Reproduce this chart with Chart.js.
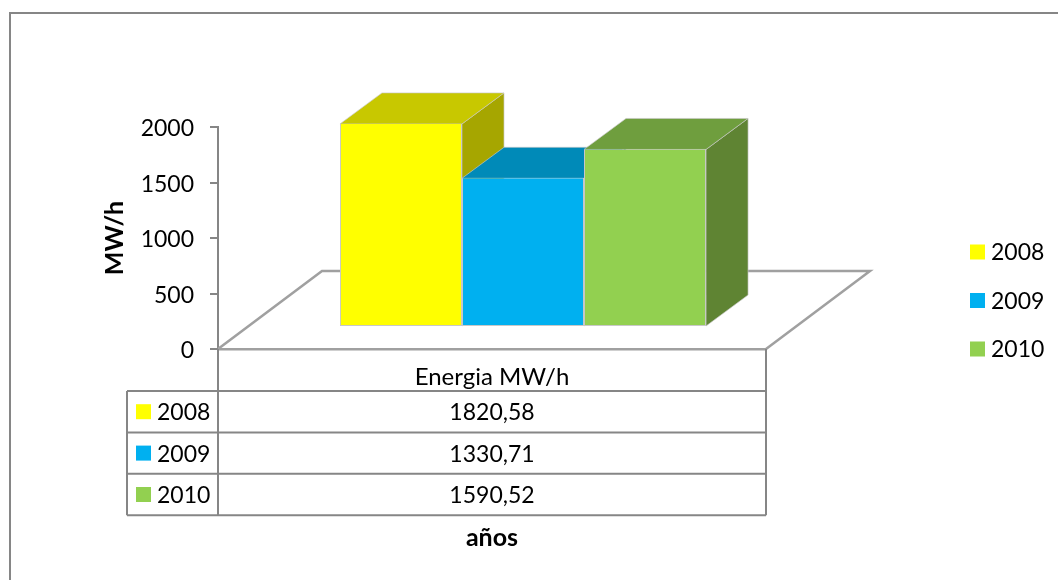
<!DOCTYPE html>
<html lang="es">
<head>
<meta charset="utf-8">
<title>Energia MW/h</title>
<style>
  html, body { margin: 0; padding: 0; background: #fff; }
  #wrap { width: 1058px; height: 580px; }
</style>
<script src="https://cdn.jsdelivr.net/npm/chart.js@4"></script>
</head>
<body>
<div id="wrap"><canvas id="chart" width="1058" height="580"></canvas></div>
<script>
const categories = ['Energia MW/h'];
const years = ['2008', '2009', '2010'];
const energy = [1820.58, 1330.71, 1590.52];
const valueLabels = ['1820,58', '1330,71', '1590,52'];
const yTicks = [0, 500, 1000, 1500, 2000];
const frontColors = ['#FFFF00', '#00B0F0', '#92D050'];
const topColors = ['#C8C800', '#008AB8', '#6F9E3E'];
const sideColors = ['#A6A600', '#007199', '#5F8433'];

const FONT = 'Lato, Carlito, sans-serif';
const LINE = '#868686';
const FLOOR_LINE = '#a0a0a0';
const EDGE = 'rgba(200,200,200,0.65)';
// Depth of the box extrusion and of the floor, in pixels.
const DEPTH = { x: 42, y: 31 };
const FLOOR = { x: 104, y: 78 };
// The bars stand in the middle of the floor.
const LIFT = { x: 31, y: -23 };

const stroke = (ctx, points, color, width) => {
  ctx.beginPath();
  points.forEach(([x, y], i) => (i ? ctx.lineTo(x, y) : ctx.moveTo(x, y)));
  ctx.strokeStyle = color;
  ctx.lineWidth = width;
  ctx.stroke();
};

const polygon = (ctx, points, color) => {
  ctx.beginPath();
  points.forEach(([x, y], i) => (i ? ctx.lineTo(x, y) : ctx.moveTo(x, y)));
  ctx.closePath();
  ctx.fillStyle = color;
  ctx.fill();
  ctx.strokeStyle = EDGE;
  ctx.lineWidth = 1;
  ctx.stroke();
};

const labelFont = `23px ${FONT}`;

const colorKey = (ctx, x, y, color, text) => {
  ctx.fillStyle = color;
  ctx.fillRect(x, y - 7.5, 15, 15);
  ctx.fillStyle = '#000';
  ctx.font = labelFont;
  ctx.textAlign = 'left';
  ctx.textBaseline = 'middle';
  ctx.fillText(text, x + 21, y + 1);
};

const box3d = {
  id: 'box3d',
  beforeDatasetsDraw(chart) {
    const { ctx, chartArea: a } = chart;
    ctx.save();
    // Floor outline, behind the bars, and the tick at zero.
    stroke(ctx, [[a.left, a.bottom], [a.left + FLOOR.x, a.bottom - FLOOR.y],
                 [a.right + FLOOR.x, a.bottom - FLOOR.y], [a.right, a.bottom]], FLOOR_LINE, 2.5);
    stroke(ctx, [[a.left - 8, a.bottom], [a.left, a.bottom]], LINE, 2);
    ctx.restore();

    ctx.save();
    ctx.translate(LIFT.x, LIFT.y);
    // Side and top faces first; the front faces come from the bar elements.
    years.forEach((_, i) => {
      const bar = chart.getDatasetMeta(i).data[0];
      const l = bar.x - bar.width / 2, r = bar.x + bar.width / 2;
      polygon(ctx, [[r, bar.y], [r + DEPTH.x, bar.y - DEPTH.y],
                    [r + DEPTH.x, bar.base - DEPTH.y], [r, bar.base]], sideColors[i]);
      polygon(ctx, [[l, bar.y], [l + DEPTH.x, bar.y - DEPTH.y],
                    [r + DEPTH.x, bar.y - DEPTH.y], [r, bar.y]], topColors[i]);
    });
  },
  afterDatasetsDraw(chart) {
    const { ctx, chartArea: a } = chart;
    ctx.restore();
    ctx.save();

    // Data table under the axis.
    const rowTop = 391, rowH = 41.4, tableLeft = 127;
    const rows = years.length;
    const tableBottom = rowTop + rowH * rows;
    stroke(ctx, [[a.left, a.bottom], [a.left, tableBottom]], LINE, 2);
    stroke(ctx, [[a.right, a.bottom], [a.right, tableBottom]], LINE, 2);
    stroke(ctx, [[tableLeft, rowTop], [tableLeft, tableBottom]], LINE, 2);
    for (let r = 0; r <= rows; r++) {
      const y = rowTop + rowH * r;
      stroke(ctx, [[tableLeft, y], [a.right, y]], LINE, 2);
    }
    years.forEach((year, i) => {
      const cy = rowTop + rowH * (i + 0.5);
      colorKey(ctx, 136, cy, frontColors[i], year);
      ctx.textAlign = 'center';
      ctx.fillText(valueLabels[i], (a.left + a.right) / 2, cy + 1);
    });

    // Series legend to the right of the plot.
    years.forEach((year, i) => {
      colorKey(ctx, 970, 252 + 48.5 * i, frontColors[i], year);
    });
    ctx.restore();
  }
};

const chartFrame = {
  id: 'chartFrame',
  beforeDraw(chart) {
    const { ctx, width, height } = chart;
    ctx.save();
    ctx.fillStyle = '#fff';
    ctx.fillRect(0, 0, width, height);
    stroke(ctx, [[10, height + 2], [10, 13], [width + 2, 13]], LINE, 2);
    ctx.restore();
  }
};

new Chart(document.getElementById('chart'), {
  type: 'bar',
  data: {
    labels: categories,
    datasets: years.map((year, i) => ({
      label: year,
      data: [energy[i]],
      backgroundColor: frontColors[i],
      borderColor: '#c8c8c8',
      borderWidth: 1,
      borderSkipped: 'top'
    }))
  },
  plugins: [box3d, chartFrame],
  options: {
    responsive: false,
    animation: false,
    events: [],
    layout: { padding: { left: 100, right: 292, top: 127, bottom: 27 } },
    plugins: { legend: { display: false }, tooltip: { enabled: false } },
    categoryPercentage: 0.668,
    barPercentage: 1,
    scales: {
      x: {
        afterFit(scale) { scale.height = 204; },
        grid: { display: false },
        border: { display: true, color: FLOOR_LINE, width: 2.5 },
        ticks: { color: '#000', font: { family: FONT, size: 24 }, padding: 6, maxRotation: 0 },
        title: { display: true, text: 'años', color: '#000', font: { family: FONT, size: 25, weight: 'bold' }, padding: { top: 0, bottom: 0 } }
      },
      y: {
        afterFit(scale) { scale.width = 118; },
        min: 0,
        max: 2000,
        afterBuildTicks(scale) { scale.ticks = yTicks.map(value => ({ value })); },
        grid: {
          drawOnChartArea: false,
          tickLength: 8,
          color: LINE,
          // The zero tick is stroked with the floor so the bars keep their full height.
          lineWidth: ctx => (ctx.tick && ctx.tick.value === 0 ? 0 : 2)
        },
        border: { color: LINE, width: 2 },
        ticks: { color: '#000', font: { family: FONT, size: 23 }, padding: 16, labelOffset: 2, callback: value => String(value) },
        title: { display: true, text: 'MW/h', color: '#000', font: { family: FONT, size: 25, weight: 'bold' }, padding: { top: 0, bottom: 0 } }
      }
    }
  }
});
</script>
</body>
</html>
